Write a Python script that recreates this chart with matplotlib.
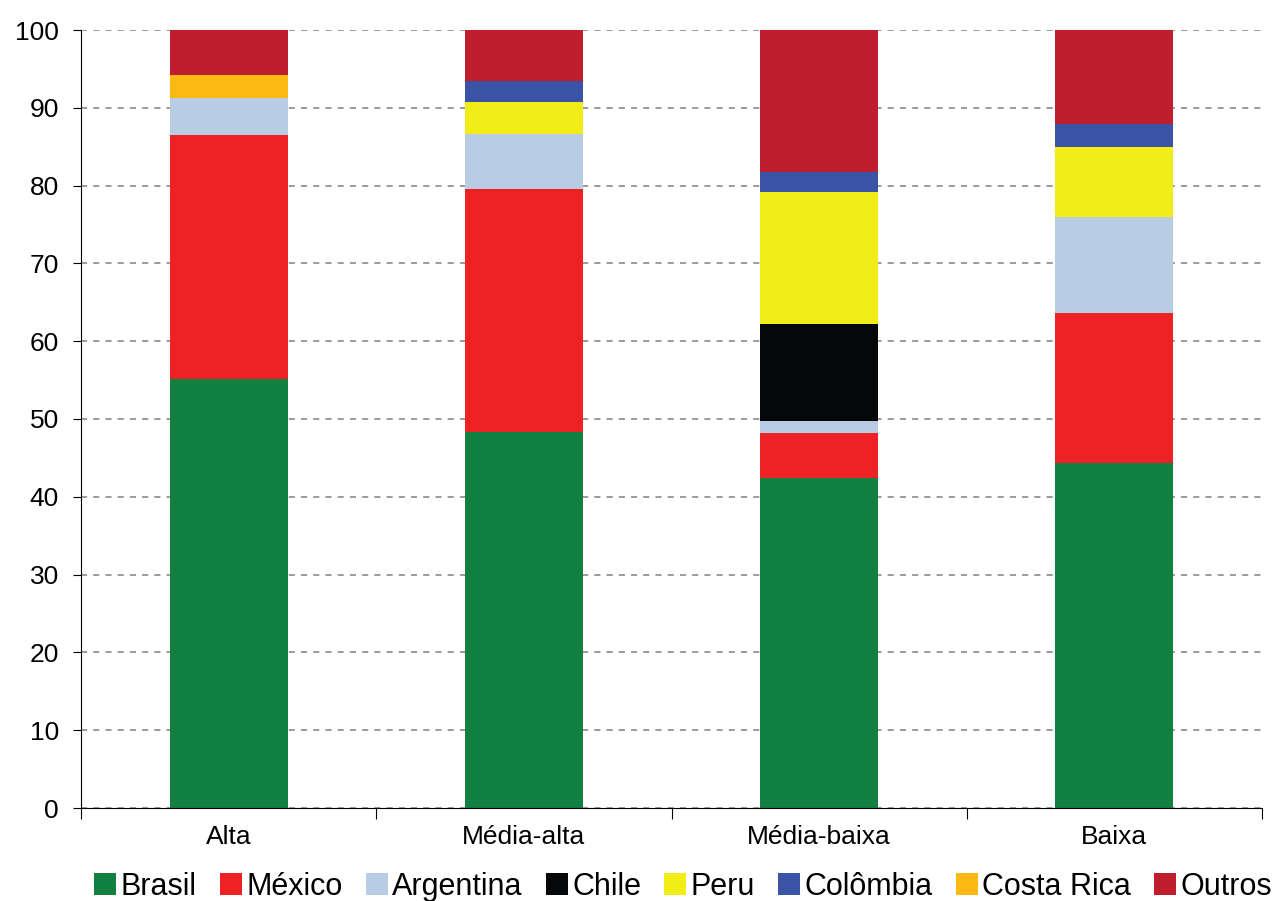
import numpy as np
import matplotlib.pyplot as plt

plt.rcParams['font.family'] = ['Liberation Sans', 'DejaVu Sans']

categorias = ['Alta', 'Média-alta', 'Média-baixa', 'Baixa']
paises = ['Brasil', 'México', 'Argentina', 'Chile', 'Peru', 'Colômbia', 'Costa Rica', 'Outros']

brasil = [55.1, 48.3, 42.4, 44.4]
mexico = [31.4, 31.3, 5.8, 19.2]
argentina = [4.7, 7.0, 1.5, 12.3]
chile = [0.0, 0.0, 12.5, 0.0]
peru = [0.0, 4.1, 17.0, 9.0]
colombia = [0.0, 2.8, 2.5, 3.0]
costa_rica = [3.0, 0.0, 0.0, 0.0]
outros = [5.8, 6.5, 18.3, 12.1]

series = [brasil, mexico, argentina, chile, peru, colombia, costa_rica, outros]
cores = ['#118040', '#EE2224', '#B8CCE4', '#060709', '#F2EC19', '#3A53A4', '#FDB913', '#BE1E2D']

fig = plt.figure(figsize=(12.79, 9.01), dpi=100)
ax = fig.add_axes([81 / 1279, 1 - 808 / 901, 1181 / 1279, 778 / 901])

x = np.arange(len(categorias))
base = np.zeros(len(categorias))
for nome, valores, cor in zip(paises, series, cores):
    ax.bar(x, valores, width=0.4, bottom=base, color=cor, label=nome, zorder=2)
    base += np.array(valores)

ax.set_xlim(-0.5, len(categorias) - 0.5)
ax.set_ylim(0, 100)
ax.set_yticks(np.arange(0, 101, 10))
ax.tick_params(axis='y', labelsize=19, length=6, pad=10)

# marcas do eixo x entre as categorias, rótulos no centro
ax.set_xticks(np.arange(-0.5, len(categorias), 1))
ax.set_xticklabels([])
ax.set_xticks(x, minor=True)
ax.set_xticklabels(categorias, minor=True)
ax.tick_params(axis='x', which='major', length=8, direction='out')
ax.tick_params(axis='x', which='minor', length=0, labelsize=19, pad=12)

ax.grid(axis='y', linestyle=(0, (4, 4)), color='#808080', linewidth=1.1, zorder=1)
ax.spines['top'].set_visible(False)
ax.spines['right'].set_visible(False)

ax.legend(loc='upper center', bbox_to_anchor=(0.51, -0.082), ncol=8, frameon=False,
          fontsize=22, handlelength=0.72, handleheight=0.72, handletextpad=0.15,
          columnspacing=0.75, borderaxespad=0, borderpad=0)

fig.savefig('out.png', dpi=100)
